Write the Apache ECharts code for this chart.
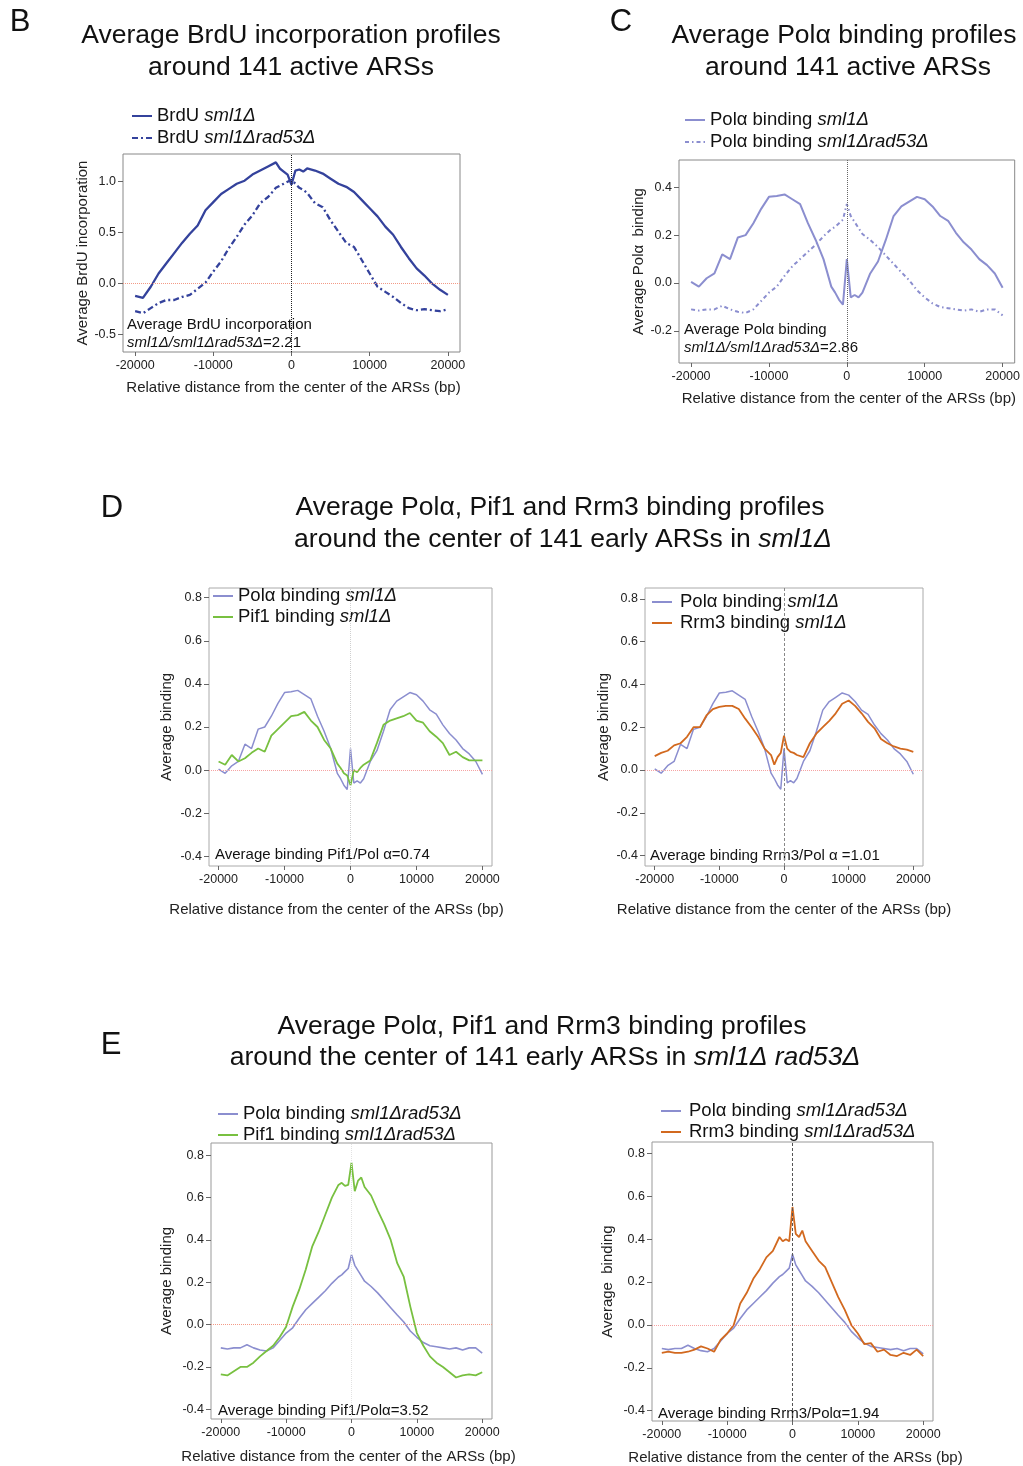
<!DOCTYPE html>
<html>
<head>
<meta charset="utf-8">
<script src="https://cdn.jsdelivr.net/npm/echarts@6/dist/echarts.min.js"></script>
<style>
html, body { margin: 0; padding: 0; background: #fff; }
#chart { width: 1023px; height: 1466px; }
</style>
</head>
<body>
<div id="chart"></div>
<script>
var FONT = '"Liberation Sans", Arial, Helvetica, sans-serif';

// distance from ARS center (bp)
var positions = [-20000, -19000, -18000, -17000, -16000, -15000, -14000, -13000, -12000, -11000,
    -10000, -9000, -8000, -7000, -6000, -5000, -4000, -3000,
    -2000, -1500, -1000, -500, 0, 500, 1000, 1500, 2000,
    3000, 4000, 5000, 6000, 7000, 8000, 9000, 10000, 11000, 12000,
    13000, 14000, 15000, 16000, 17000, 18000, 19000, 20000];

var brduSml1 = [-0.12, -0.14, -0.03, 0.10, 0.20, 0.30, 0.40, 0.49, 0.57, 0.72, 0.80, 0.88, 0.93, 0.98, 1.01, 1.07, 1.11, 1.15,
    1.19, 1.13, 1.10, 1.07, 0.97, 1.11, 1.12, 1.10, 1.13,
    1.11, 1.08, 1.03, 0.98, 0.95, 0.90, 0.82, 0.74, 0.66, 0.56, 0.48, 0.36, 0.25, 0.15, 0.08, 0.00, -0.06, -0.11];
var brduRad53 = [-0.27, -0.29, -0.24, -0.19, -0.16, -0.16, -0.13, -0.11, -0.05, 0.01, 0.12, 0.22, 0.35, 0.46, 0.58, 0.67, 0.79, 0.85,
    0.94, 0.96, 0.98, 1.00, 1.02, 0.98, 0.94, 0.92, 0.89,
    0.79, 0.75, 0.62, 0.51, 0.40, 0.36, 0.23, 0.10, -0.03, -0.08, -0.13, -0.19, -0.24, -0.26, -0.25, -0.26, -0.27, -0.25];

var polaSml1 = [0.005, -0.015, 0.02, 0.04, 0.12, 0.10, 0.19, 0.20, 0.25, 0.31, 0.36, 0.364, 0.37, 0.35, 0.33, 0.25, 0.18, 0.10,
    -0.015, -0.04, -0.07, -0.09, 0.10, -0.06, -0.05, -0.06, -0.04,
    0.04, 0.09, 0.18, 0.28, 0.32, 0.34, 0.36, 0.35, 0.32, 0.28, 0.26, 0.21, 0.17, 0.14, 0.10, 0.075, 0.04, -0.02];
var polaRad53 = [-0.11, -0.115, -0.11, -0.11, -0.095, -0.11, -0.12, -0.125, -0.11, -0.075, -0.04, -0.015, 0.03, 0.07, 0.10, 0.13, 0.16, 0.195,
    0.225, 0.235, 0.25, 0.265, 0.33, 0.28, 0.255, 0.23, 0.205,
    0.18, 0.15, 0.115, 0.08, 0.045, 0.012, -0.03, -0.06, -0.085, -0.10, -0.105, -0.11, -0.115, -0.11, -0.12, -0.11, -0.11, -0.135];

var pif1Sml1 = [0.04, 0.025, 0.07, 0.04, 0.055, 0.08, 0.10, 0.085, 0.16, 0.19, 0.22, 0.25, 0.255, 0.27, 0.23, 0.20, 0.14, 0.10,
    0.03, 0.01, -0.015, -0.025, -0.07, 0.0, -0.01, 0.01, 0.025,
    0.045, 0.125, 0.21, 0.23, 0.24, 0.25, 0.265, 0.23, 0.22, 0.18, 0.155, 0.125, 0.07, 0.085, 0.06, 0.045, 0.045, 0.045];
var rrm3Sml1 = [0.065, 0.08, 0.09, 0.115, 0.125, 0.155, 0.20, 0.20, 0.255, 0.285, 0.295, 0.30, 0.30, 0.285, 0.24, 0.20, 0.155, 0.10,
    0.07, 0.025, 0.06, 0.08, 0.16, 0.10, 0.085, 0.08, 0.07,
    0.06, 0.125, 0.17, 0.20, 0.23, 0.265, 0.31, 0.325, 0.30, 0.265, 0.225, 0.195, 0.145, 0.125, 0.11, 0.10, 0.095, 0.085];

var pif1Rad53 = [-0.235, -0.24, -0.22, -0.20, -0.20, -0.18, -0.15, -0.125, -0.10, -0.06, -0.01, 0.085, 0.165, 0.26, 0.37, 0.44, 0.52, 0.60,
    0.66, 0.67, 0.655, 0.66, 0.765, 0.63, 0.68, 0.695, 0.65,
    0.61, 0.54, 0.475, 0.40, 0.29, 0.225, 0.085, -0.04, -0.10, -0.15, -0.18, -0.20, -0.225, -0.25, -0.24, -0.235, -0.24, -0.225];
var rrm3Rad53 = [-0.13, -0.125, -0.13, -0.13, -0.125, -0.115, -0.10, -0.11, -0.125, -0.07, -0.04, 0.0, 0.10, 0.15, 0.215, 0.26, 0.315, 0.345,
    0.41, 0.39, 0.40, 0.39, 0.55, 0.425, 0.41, 0.44, 0.39,
    0.345, 0.30, 0.27, 0.20, 0.13, 0.07, 0.0, -0.04, -0.09, -0.085, -0.125, -0.115, -0.14, -0.145, -0.13, -0.14, -0.115, -0.145];

var xTicks = [-20000, -10000, 0, 10000, 20000];
var yTicksB = [-0.5, 0, 0.5, 1.0];
var yTicksC = [-0.2, 0, 0.2, 0.4];
var yTicksDE = [-0.4, -0.2, 0, 0.2, 0.4, 0.6, 0.8];

var legendText = {
    brduS: 'BrdU {i|sml1Δ}',
    brduR: 'BrdU {i|sml1Δrad53Δ}',
    cPolS: 'Polα binding {i|sml1Δ}',
    cPolR: 'Polα binding {i|sml1Δrad53Δ}',
    dPolS1: 'Polα binding {i|sml1Δ}',
    dPif: 'Pif1 binding {i|sml1Δ}',
    dPolS2: 'Polα binding {i|sml1Δ}',
    dRrm: 'Rrm3 binding {i|sml1Δ}',
    ePolR1: 'Polα binding {i|sml1Δrad53Δ}',
    ePif: 'Pif1 binding {i|sml1Δrad53Δ}',
    ePolR2: 'Polα binding {i|sml1Δrad53Δ}',
    eRrm: 'Rrm3 binding {i|sml1Δrad53Δ}'
};

var BLUE = '#34429c', LAV = '#8b8ecf', GREEN = '#78c040', ORANGE = '#d2691f';

function pts(vals) {
    return positions.map(function (x, i) { return [x, vals[i]]; });
}

function marks(zeroColor, vColor, vType) {
    var data = [];
    if (zeroColor) data.push({yAxis: 0, lineStyle: {color: zeroColor, type: 'dotted', width: 1}});
    data.push({xAxis: 0, lineStyle: {color: vColor, type: vType, width: 1}});
    return {silent: true, symbol: ['none', 'none'], label: {show: false}, data: data};
}

function line(name, idx, vals, color, width, dash, mk) {
    var s = {
        name: name, type: 'line', xAxisIndex: idx, yAxisIndex: idx,
        data: pts(vals), symbol: 'none', showSymbol: false,
        lineStyle: {color: color, width: width, type: dash || 'solid'},
        itemStyle: {color: color}
    };
    if (mk) s.markLine = mk;
    return s;
}

// plot boxes
var boxes = [
    {left: 123, top: 154, width: 337, height: 198, border: '#888'},
    {left: 679, top: 160, width: 339, height: 203, border: '#888'},
    {left: 209, top: 588, width: 283, height: 278, border: '#aaa'},
    {left: 645, top: 588, width: 278, height: 278, border: '#aaa'},
    {left: 211, top: 1143, width: 281, height: 276, border: '#999'},
    {left: 652, top: 1142, width: 281, height: 279, border: '#999'}
];
var xHalf = [21550, 21550, 21450, 21500, 21500, 21500];
var yRanges = [[-0.67, 1.272], [-0.334, 0.514], [-0.445, 0.845], [-0.449, 0.851], [-0.446, 0.858], [-0.448, 0.853]];
var yTicks = [yTicksB, yTicksC, yTicksDE, yTicksDE, yTicksDE, yTicksDE];
var yNames = ['Average BrdU incorporation', 'Average Polα  binding', 'Average binding', 'Average binding', 'Average binding', 'Average  binding'];
var yNameGap = [27, 30, 35, 34, 37, 37];
var xNameGap = [28, 28, 36, 36, 30, 29];
var xNamePad = [[0, 0, 0, 4], [0, 0, 0, 4], [0, 28, 0, 0], [0, 0, 0, 0], [0, 6, 0, 0], [0, 0, 0, 6]];

var grids = [], xAxes = [], yAxes = [];
boxes.forEach(function (b, i) {
    grids.push({left: b.left, top: b.top, width: b.width, height: b.height, show: true,
        borderColor: b.border, borderWidth: 1, backgroundColor: 'transparent', containLabel: false});
    xAxes.push({
        type: 'value', gridIndex: i, min: -xHalf[i], max: xHalf[i],
        axisLine: {show: false, onZero: false}, splitLine: {show: false},
        axisTick: {show: true, length: 4, customValues: xTicks, lineStyle: {color: '#666'}},
        axisLabel: {customValues: xTicks, margin: 7, fontSize: 12.5, color: '#222', fontFamily: FONT,
            formatter: function (v) { return String(v); }},
        name: 'Relative distance from the center of the ARSs (bp)',
        nameLocation: 'middle', nameGap: xNameGap[i],
        nameTextStyle: {fontSize: 15, color: '#222', fontFamily: FONT, padding: xNamePad[i]}
    });
    yAxes.push({
        type: 'value', gridIndex: i, min: yRanges[i][0], max: yRanges[i][1],
        axisLine: {show: false, onZero: false}, splitLine: {show: false},
        axisTick: {show: true, length: 5, customValues: yTicks[i], lineStyle: {color: '#666'}},
        axisLabel: {customValues: yTicks[i], margin: 7, fontSize: 12.5, color: '#222', fontFamily: FONT,
            formatter: function (v) { return v.toFixed(1); }},
        name: yNames[i], nameLocation: 'middle', nameGap: yNameGap[i], nameRotate: 90,
        nameTextStyle: {fontSize: 15, color: '#222', fontFamily: FONT}
    });
});

function legend(names, left, top, textGapFix, gap) {
    return {
        orient: 'vertical', left: left, top: top, padding: 0,
        itemWidth: 20, itemHeight: 12, itemGap: gap || 1, selectedMode: false,
        itemStyle: {opacity: 0, borderWidth: 0},
        data: names,
        formatter: function (n) { return legendText[n]; },
        textStyle: {fontSize: 18.5, color: '#111', fontFamily: FONT, lineHeight: 20,
            padding: [0, 0, 0, textGapFix || 0],
            rich: {i: {fontSize: 18.5, fontStyle: 'italic', fontFamily: FONT, color: '#111', lineHeight: 20}}}
    };
}

function txt(x, y, text, size, align) {
    var rich = {i: {fontSize: size, fontStyle: 'italic', fontFamily: FONT, fill: '#111'}};
    return {
        type: 'text', x: x, y: y, silent: true,
        style: {text: text, fontSize: size, fontFamily: FONT, fill: '#111',
            align: align, textAlign: align, verticalAlign: 'middle', textVerticalAlign: 'middle', rich: rich}
    };
}

var option = {
    animation: false,
    backgroundColor: '#fff',
    grid: grids,
    xAxis: xAxes,
    yAxis: yAxes,
    legend: [
        legend(['brduS', 'brduR'], 131, 106, 0, 2),
        legend(['cPolS', 'cPolR'], 684, 110, 0, 2),
        legend(['dPolS1', 'dPif'], 212, 586),
        legend(['dPolS2', 'dRrm'], 651, 592, 3),
        legend(['ePolR1', 'ePif'], 217, 1104),
        legend(['ePolR2', 'eRrm'], 660, 1101, 3)
    ],
    series: [
        line('brduS', 0, brduSml1, BLUE, 2.3, 'solid', marks('#f39a86', '#222', 'dotted')),
        line('brduR', 0, brduRad53, BLUE, 2.3, [6, 3, 2, 3]),
        line('cPolS', 1, polaSml1, LAV, 2, 'solid', marks(null, '#666', 'dotted')),
        line('cPolR', 1, polaRad53, LAV, 2, [4, 3, 1.5, 3]),
        line('dPolS1', 2, polaSml1, LAV, 1.5, 'solid', marks('#f6a3a3', '#cfcfcf', 'dotted')),
        line('dPif', 2, pif1Sml1, GREEN, 1.8),
        line('dPolS2', 3, polaSml1, LAV, 1.5, 'solid', marks('#f6a3a3', '#888', [3, 2])),
        line('dRrm', 3, rrm3Sml1, ORANGE, 1.8),
        line('ePolR1', 4, polaRad53, LAV, 1.6, 'solid', marks('#f39a86', '#e2e2e2', 'dotted')),
        line('ePif', 4, pif1Rad53, GREEN, 1.8),
        line('ePolR2', 5, polaRad53, LAV, 1.6, 'solid', marks('#f6a3a3', '#555', [3, 2])),
        line('eRrm', 5, rrm3Rad53, ORANGE, 1.8)
    ],
    graphic: [
        txt(20, 22, 'B', 31, 'center'),
        txt(291, 36, 'Average BrdU incorporation profiles', 26.5, 'center'),
        txt(291, 68, 'around 141 active ARSs', 26.5, 'center'),
        txt(621, 22, 'C', 31, 'center'),
        txt(844, 36, 'Average Polα binding profiles', 26.5, 'center'),
        txt(848, 68, 'around 141 active ARSs', 26.5, 'center'),
        txt(112, 508, 'D', 31, 'center'),
        txt(560, 508, 'Average Polα, Pif1 and Rrm3 binding profiles', 26.5, 'center'),
        txt(563, 540, 'around the center of 141 early ARSs in {i|sml1Δ}', 26.5, 'center'),
        txt(111, 1045, 'E', 31, 'center'),
        txt(542, 1027, 'Average Polα, Pif1 and Rrm3 binding profiles', 26.5, 'center'),
        txt(545, 1058, 'around the center of 141 early ARSs in {i|sml1Δ rad53Δ}', 26.5, 'center'),
        txt(127, 325, 'Average BrdU incorporation', 15, 'left'),
        txt(127, 343, '{i|sml1Δ/sml1Δrad53Δ}=2.21', 15, 'left'),
        txt(684, 330, 'Average Polα binding', 15, 'left'),
        txt(684, 348, '{i|sml1Δ/sml1Δrad53Δ}=2.86', 15, 'left'),
        txt(215, 855, 'Average binding Pif1/Pol α=0.74', 15, 'left'),
        txt(650, 856, 'Average binding Rrm3/Pol α =1.01', 15, 'left'),
        txt(218, 1411, 'Average binding Pif1/Polα=3.52', 15, 'left'),
        txt(658, 1414, 'Average binding Rrm3/Polα=1.94', 15, 'left')
    ]
};

var myChart = echarts.init(document.getElementById('chart'), null, {renderer: 'canvas'});
myChart.setOption(option);
</script>
</body>
</html>
